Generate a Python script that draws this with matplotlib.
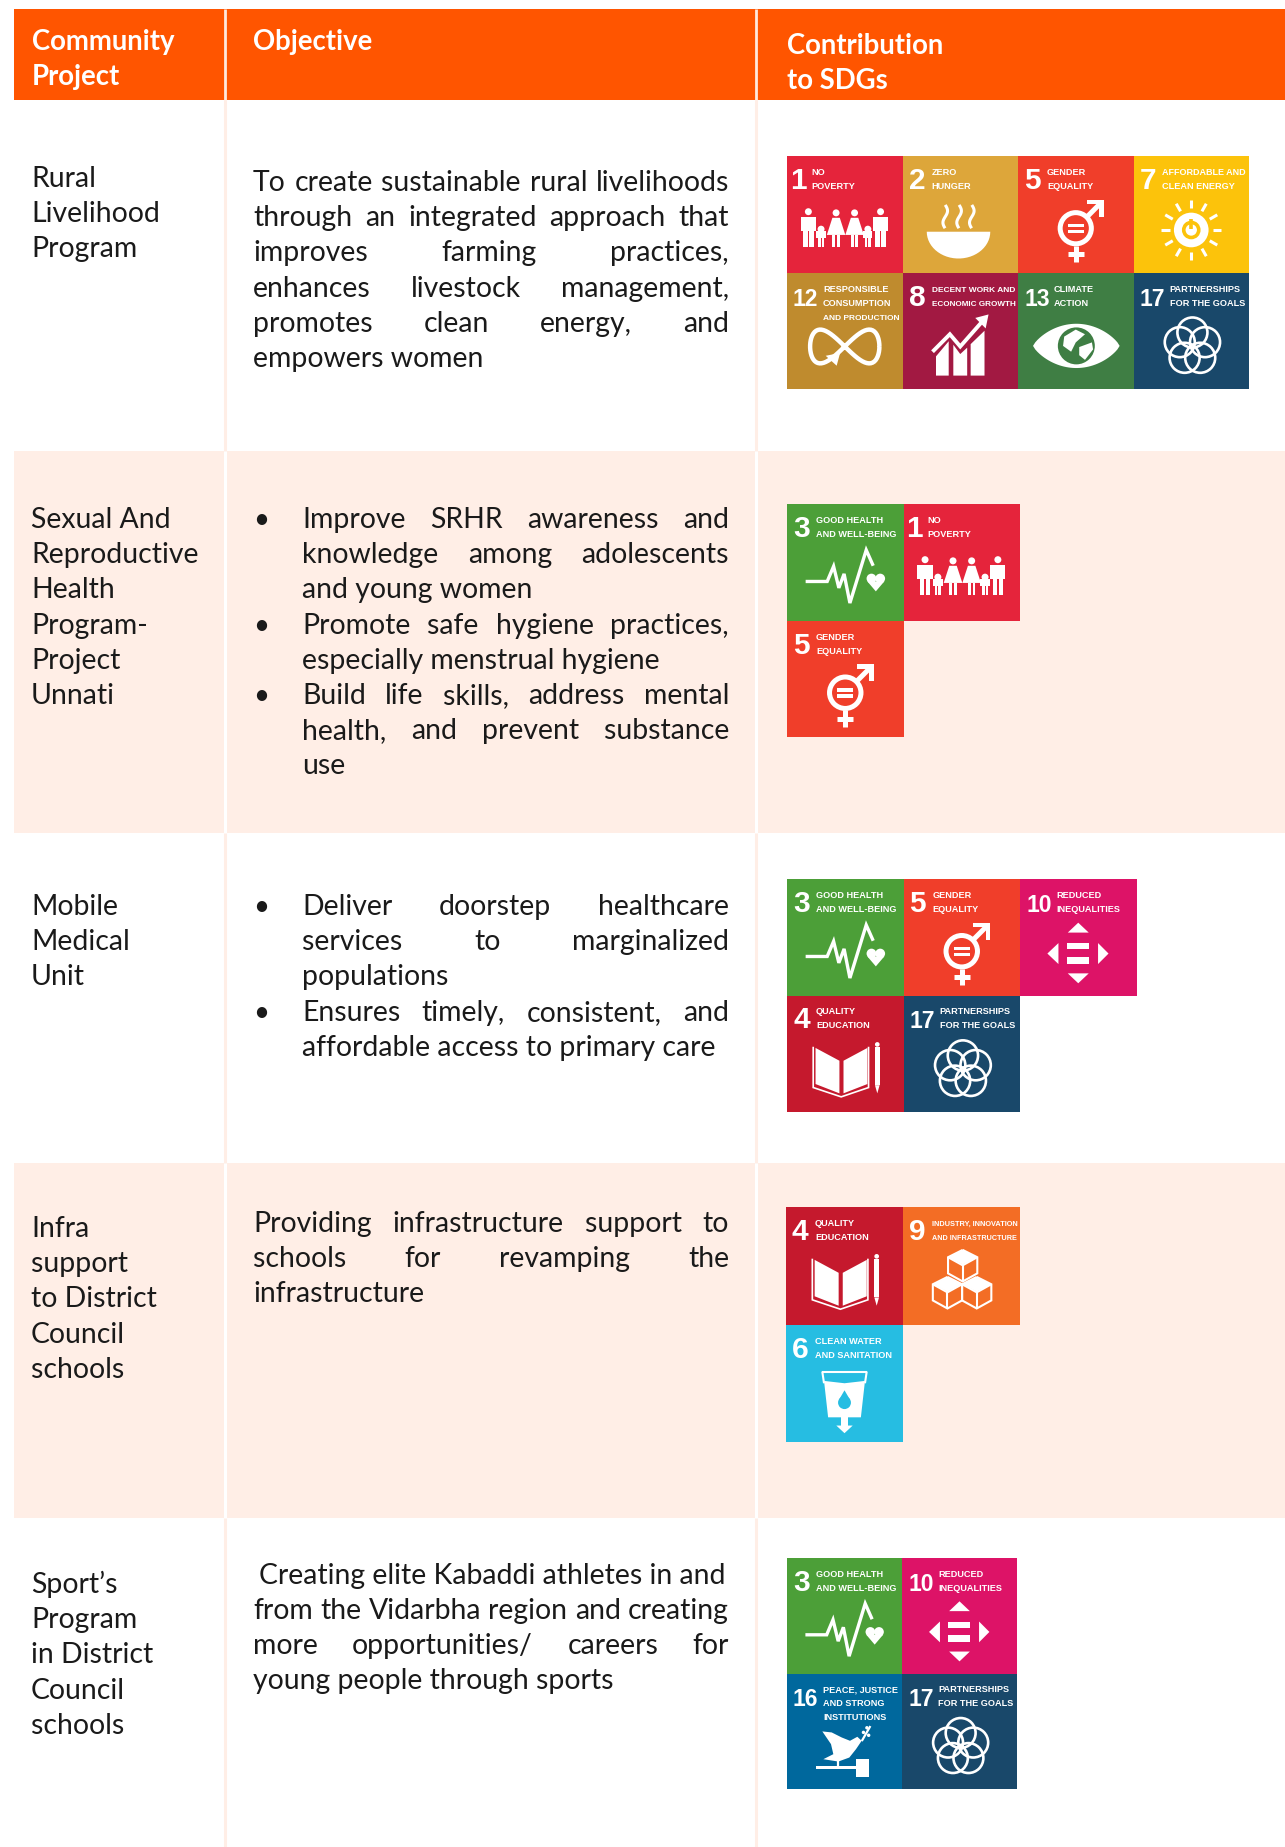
import numpy as np
import matplotlib
matplotlib.use('Agg')
import matplotlib.pyplot as plt
from matplotlib import font_manager
from matplotlib.patches import Rectangle, Circle, Polygon

BODY_FONT = 'Lato'
names = {f.name for f in font_manager.fontManager.ttflist}
TILE_FONT = 'Liberation Sans Narrow' if 'Liberation Sans Narrow' in names else 'Liberation Sans'

headers = [['Community', 'Project'], ['Objective'], ['Contribution', 'to SDGs']]

projects = [
    ['Rural', 'Livelihood', 'Program'],
    ['Sexual And', 'Reproductive', 'Health', 'Program-', 'Project', 'Unnati'],
    ['Mobile', 'Medical', 'Unit'],
    ['Infra', 'support', 'to District', 'Council', 'schools'],
    ['Sport\u2019s', 'Program', 'in District', 'Council', 'schools'],
]

objective_1 = ['To create sustainable rural livelihoods',
               'through an integrated approach that',
               'improves farming practices,',
               'enhances livestock management,',
               'promotes clean energy, and',
               'empowers women']
objective_2 = [['Improve SRHR awareness and', 'knowledge among adolescents', 'and young women'],
               ['Promote safe hygiene practices,', 'especially menstrual hygiene'],
               ['Build life skills, address mental', 'health, and prevent substance', 'use']]
objective_3 = [['Deliver doorstep healthcare', 'services to marginalized', 'populations'],
               ['Ensures timely, consistent, and', 'affordable access to primary care']]
objective_4 = ['Providing infrastructure support to',
               'schools for revamping the',
               'infrastructure']
objective_5 = ['Creating elite Kabaddi athletes in and',
               'from the Vidarbha region and creating',
               'more opportunities/ careers for',
               'young people through sports']

sdg_rows = [
    [[1, 2, 5, 7], [12, 8, 13, 17]],
    [[3, 1], [5]],
    [[3, 5, 10], [4, 17]],
    [[4, 9], [6]],
    [[3, 10], [16, 17]],
]

sdg_colors = {1: '#E5243B', 2: '#DDA63A', 3: '#4C9F38', 4: '#C5192D', 5: '#F03E2A',
              6: '#26BDE2', 7: '#FCC30B', 8: '#A21942', 9: '#F36D25', 10: '#DD1367',
              12: '#BF8B2E', 13: '#3F7E44', 16: '#00689D', 17: '#19486A'}
sdg_labels = {1: ['NO', 'POVERTY'], 2: ['ZERO', 'HUNGER'], 3: ['GOOD HEALTH', 'AND WELL-BEING'],
              4: ['QUALITY', 'EDUCATION'], 5: ['GENDER', 'EQUALITY'], 6: ['CLEAN WATER', 'AND SANITATION'],
              7: ['AFFORDABLE AND', 'CLEAN ENERGY'], 8: ['DECENT WORK AND', 'ECONOMIC GROWTH'],
              9: ['INDUSTRY, INNOVATION', 'AND INFRASTRUCTURE'], 10: ['REDUCED', 'INEQUALITIES'],
              12: ['RESPONSIBLE', 'CONSUMPTION', 'AND PRODUCTION'], 13: ['CLIMATE', 'ACTION'],
              16: ['PEACE, JUSTICE', 'AND STRONG', 'INSTITUTIONS'], 17: ['PARTNERSHIPS', 'FOR THE GOALS']}

ORANGE = '#FF5500'
PEACH = '#FFEEE6'
TEXT = '#1a1a1a'
FS = 20.4
HFS = 19.8
STEP = 35.2
X_LEFT, X_MID, X_RIGHT = 14, 225, 756
Y_BANDS = [100, 451, 833, 1163, 1518, 1847]

fig = plt.figure(figsize=(12.85, 18.47), dpi=100)
ax = fig.add_axes([0, 0, 1, 1])
ax.set_xlim(0, 1285)
ax.set_ylim(1847, 0)
ax.axis('off')
renderer = fig.canvas.get_renderer()


def put(x, y, s, **kw):
    kw.setdefault('color', TEXT)
    kw.setdefault('fontsize', FS)
    kw.setdefault('family', BODY_FONT)
    return ax.text(x, y, s, va='baseline', ha='left', **kw)


def justified(line, x0, x1, y):
    words = line.split()
    items = [put(0, y, w) for w in words]
    widths = [t.get_window_extent(renderer).width for t in items]
    gap = (x1 - x0 - sum(widths)) / (len(words) - 1)
    x = x0
    for t, w in zip(items, widths):
        t.set_x(x)
        x += w + gap


def paragraph(lines, x0, x1, y):
    for i, line in enumerate(lines):
        if i < len(lines) - 1:
            justified(line, x0, x1, y + i * STEP)
        else:
            put(x0, y + i * STEP, line)


def bullets(groups, y):
    n = 0
    for group in groups:
        put(253, y + n * STEP, '\u2022', fontsize=20)
        paragraph(group, 302, 729, y + n * STEP)
        n += len(group)


# background bands and column rules
for i in range(5):
    band = PEACH if i % 2 else 'white'
    ax.add_patch(Rectangle((X_LEFT, Y_BANDS[i]), 1285 - X_LEFT, Y_BANDS[i + 1] - Y_BANDS[i], fc=band, ec='none'))
    rule = 'white' if i % 2 else PEACH
    for x in (X_MID, X_RIGHT):
        ax.plot([x, x], [Y_BANDS[i], Y_BANDS[i + 1]], color=rule, lw=2.2, solid_capstyle='butt')
ax.add_patch(Rectangle((X_LEFT, 9), 1285 - X_LEFT, 91, fc=ORANGE, ec='none'))
for x in (X_MID, X_RIGHT):
    ax.plot([x, x], [9, 100], color='#FFE9DE', lw=2.0, solid_capstyle='butt')

# header text
put(32, 50, headers[0][0], color='white', fontsize=HFS, fontweight='bold')
put(32, 85, headers[0][1], color='white', fontsize=HFS, fontweight='bold')
put(253, 50, headers[1][0], color='white', fontsize=HFS, fontweight='bold')
put(787, 54, headers[2][0], color='white', fontsize=HFS, fontweight='bold')
put(787, 89, headers[2][1], color='white', fontsize=HFS, fontweight='bold')

# first column
for lines, y in zip(projects, [187, 528, 915, 1237, 1593]):
    for i, line in enumerate(lines):
        put(31, y + i * STEP, line)

# objective column
paragraph(objective_1, 253, 729, 191)
bullets(objective_2, 528)
bullets(objective_3, 915)
paragraph(objective_4, 253, 729, 1232)
put(259, 1584, objective_5[0])
paragraph(objective_5[1:], 253, 729, 1619)


# tile icons, all in fractions of the tile
class Tile:
    def __init__(self, x, y, w, h, color):
        self.x, self.y, self.w, self.h, self.color = x, y, w, h, color

    def p(self, pts):
        return [(self.x + a * self.w, self.y + b * self.h) for a, b in pts]

    def poly(self, pts, fc='white'):
        ax.add_patch(Polygon(self.p(pts), closed=True, fc=fc, ec='none'))

    def rect(self, a, b, c, d, fc='white'):
        self.poly([(a, b), (c, b), (c, d), (a, d)], fc)

    def circ(self, a, b, r, fc='white', ec='none', lw=0):
        ax.add_patch(Circle((self.x + a * self.w, self.y + b * self.h), r * self.w, fc=fc, ec=ec, lw=lw))

    def line(self, pts, lw=2.0, color='white'):
        q = np.array(self.p(pts))
        ax.plot(q[:, 0], q[:, 1], color=color, lw=lw, solid_capstyle='butt', solid_joinstyle='miter')


def person(t, c, top, h, w, dress=False):
    t.circ(c, top + 0.028, 0.03)
    if dress:
        t.poly([(c - w * 0.4, top + h * 0.22), (c + w * 0.4, top + h * 0.22), (c + w, top + h * 0.68), (c - w, top + h * 0.68)])
        t.rect(c - w * 0.4, top + h * 0.68, c - w * 0.1, top + h)
        t.rect(c + w * 0.1, top + h * 0.68, c + w * 0.4, top + h)
    else:
        t.rect(c - w, top + h * 0.22, c + w, top + h * 0.58)
        t.rect(c - w * 0.7, top + h * 0.58, c - w * 0.1, top + h)
        t.rect(c + w * 0.1, top + h * 0.58, c + w * 0.7, top + h)


def icon_1(t):
    person(t, 0.185, 0.45, 0.33, 0.065)
    person(t, 0.295, 0.60, 0.18, 0.04)
    person(t, 0.425, 0.46, 0.32, 0.08, True)
    person(t, 0.585, 0.46, 0.32, 0.08, True)
    person(t, 0.70, 0.60, 0.18, 0.04)
    person(t, 0.81, 0.45, 0.33, 0.065)


def icon_2(t):
    bowl = np.linspace(0, np.pi, 30)
    t.poly([(0.485 + 0.275 * np.cos(a), 0.65 + 0.23 * np.sin(a)) for a in bowl])
    for c in (0.37, 0.49, 0.60):
        ys = np.linspace(0.42, 0.62, 20)
        t.line([(c + 0.02 * np.sin((v - 0.42) * 31), v) for v in ys], lw=2.2)


def icon_3(t):
    t.line([(0.16, 0.665), (0.345, 0.665), (0.40, 0.535), (0.445, 0.72), (0.49, 0.60),
            (0.54, 0.85), (0.68, 0.395), (0.74, 0.53)], lw=2.4)
    t.circ(0.725, 0.64, 0.042)
    t.circ(0.80, 0.64, 0.042)
    t.poly([(0.69, 0.665), (0.835, 0.665), (0.7625, 0.75)])


def icon_4(t):
    t.poly([(0.245, 0.45), (0.45, 0.56), (0.45, 0.84), (0.245, 0.76)])
    t.poly([(0.485, 0.56), (0.69, 0.45), (0.69, 0.76), (0.485, 0.84)])
    t.line([(0.225, 0.44), (0.225, 0.79), (0.465, 0.87), (0.70, 0.79), (0.70, 0.44)], lw=1.2)
    t.rect(0.755, 0.44, 0.795, 0.77)
    t.poly([(0.755, 0.77), (0.795, 0.77), (0.775, 0.84)])
    t.circ(0.775, 0.42, 0.02)


def icon_5(t):
    t.circ(0.50, 0.62, 0.135, fc='none', ec='white', lw=3.6)
    t.rect(0.43, 0.58, 0.57, 0.61)
    t.rect(0.43, 0.635, 0.57, 0.665)
    t.line([(0.50, 0.77), (0.50, 0.91)], lw=3.6)
    t.line([(0.43, 0.845), (0.57, 0.845)], lw=3.6)
    t.line([(0.60, 0.52), (0.72, 0.40)], lw=3.6)
    t.poly([(0.60, 0.375), (0.745, 0.375), (0.745, 0.52), (0.705, 0.52), (0.705, 0.415), (0.60, 0.415)])


def icon_6(t):
    t.line([(0.31, 0.40), (0.69, 0.40)], lw=1.5)
    t.line([(0.31, 0.40), (0.325, 0.50)], lw=1.5)
    t.line([(0.69, 0.40), (0.675, 0.50)], lw=1.5)
    t.poly([(0.325, 0.48), (0.50, 0.50), (0.675, 0.48), (0.64, 0.79), (0.36, 0.79)])
    t.circ(0.50, 0.665, 0.055, fc=t.color)
    t.poly([(0.50, 0.56), (0.45, 0.645), (0.55, 0.645)], fc=t.color)
    t.rect(0.47, 0.79, 0.53, 0.86)
    t.poly([(0.43, 0.86), (0.57, 0.86), (0.50, 0.925)])


def icon_7(t):
    for a in np.arange(0, 360, 30):
        r = np.radians(a)
        t.line([(0.5 + 0.185 * np.cos(r), 0.635 + 0.185 * np.sin(r)),
                (0.5 + 0.26 * np.cos(r), 0.635 + 0.26 * np.sin(r))], lw=2.2)
    t.circ(0.5, 0.635, 0.15)
    t.circ(0.5, 0.635, 0.065, fc='none', ec=t.color, lw=2.6)
    t.line([(0.5, 0.54), (0.5, 0.63)], lw=2.6, color=t.color)


def icon_8(t):
    t.poly([(0.29, 0.72), (0.40, 0.59), (0.40, 0.885), (0.29, 0.885)])
    t.poly([(0.44, 0.62), (0.50, 0.70), (0.56, 0.645), (0.56, 0.885), (0.44, 0.885)])
    t.poly([(0.59, 0.615), (0.71, 0.50), (0.71, 0.885), (0.59, 0.885)])
    t.line([(0.26, 0.68), (0.41, 0.53), (0.50, 0.635), (0.70, 0.41)], lw=2.8)
    t.poly([(0.63, 0.39), (0.745, 0.36), (0.72, 0.48)])


def icon_9(t):
    r = 0.125
    for c, v in [(0.51, 0.49), (0.38, 0.72), (0.63, 0.72)]:
        hexa = [(c, v - r * 1.0), (c + r, v - r * 0.5), (c + r, v + r * 0.6), (c, v + r * 1.15), (c - r, v + r * 0.6), (c - r, v - r * 0.5)]
        t.poly(hexa[:2] + [(c, v)] + hexa[5:], fc='white')
        t.line(hexa + [hexa[0]], lw=1.5)
        t.line([(c - r, v - r * 0.5), (c, v + r * 0.05), (c + r, v - r * 0.5)], lw=1.5)
        t.line([(c, v + r * 0.05), (c, v + r * 1.15)], lw=1.5)


def icon_10(t):
    t.poly([(0.41, 0.46), (0.59, 0.46), (0.50, 0.375)])
    t.rect(0.40, 0.55, 0.595, 0.605)
    t.rect(0.40, 0.67, 0.595, 0.73)
    t.poly([(0.41, 0.81), (0.59, 0.81), (0.50, 0.895)])
    t.poly([(0.33, 0.55), (0.33, 0.73), (0.235, 0.64)])
    t.poly([(0.67, 0.55), (0.67, 0.73), (0.76, 0.64)])


def icon_12(t):
    a = np.linspace(0, 2 * np.pi, 80)
    t.line([(0.5 + 0.30 * np.cos(v), 0.635 + 0.145 * np.sin(2 * v)) for v in a], lw=3.2)
    t.poly([(0.335, 0.715), (0.46, 0.69), (0.43, 0.80)])


def icon_13(t):
    a = np.linspace(-1, 1, 40)
    top = [(0.505 + 0.375 * v, 0.63 - 0.19 * (1 - v ** 2) ** 0.8) for v in a]
    bot = [(0.505 + 0.375 * v, 0.63 + 0.19 * (1 - v ** 2) ** 0.8) for v in a[::-1]]
    t.poly(top + bot)
    t.circ(0.505, 0.63, 0.16, fc=t.color)
    t.poly([(0.40, 0.55), (0.50, 0.49), (0.58, 0.53), (0.50, 0.60), (0.46, 0.68), (0.39, 0.63)])
    t.poly([(0.53, 0.64), (0.64, 0.60), (0.65, 0.66), (0.58, 0.75), (0.53, 0.71)])


def icon_16(t):
    pts = [(157, 572), (185, 575), (215, 590), (240, 600), (262, 588), (275, 600), (258, 625), (238, 650),
           (205, 662), (160, 655), (190, 640), (183, 610)]
    t.poly([((a - 51) / 345, (b - 399) / 345) for a, b in pts])
    t.line([(0.650, 0.585), (0.725, 0.455)], lw=1.6)
    for a, b in [(0.665, 0.51), (0.695, 0.47), (0.71, 0.535)]:
        t.circ(a, b, 0.015)
    t.line([(0.445, 0.755), (0.445, 0.815)], lw=1.6)
    t.rect(0.25, 0.805, 0.61, 0.83)
    t.rect(0.60, 0.74, 0.71, 0.90)


def icon_17(t):
    for a in np.radians(np.arange(-90, 270, 72)):
        t.circ(0.51 + 0.115 * np.cos(a), 0.635 + 0.12 * np.sin(a), 0.13, fc='none', ec='white', lw=1.9)


icons = {1: icon_1, 2: icon_2, 3: icon_3, 4: icon_4, 5: icon_5, 6: icon_6, 7: icon_7, 8: icon_8,
         9: icon_9, 10: icon_10, 12: icon_12, 13: icon_13, 16: icon_16, 17: icon_17}


def draw_tile(goal, x, y, w, h):
    ax.add_patch(Rectangle((x, y), w, h, fc=sdg_colors[goal], ec='none'))
    put(x + (3 if goal == 1 else 6), y + 33, str(goal), color='white', fontsize=16.5 if goal > 9 else 21.5,
        family=TILE_FONT, fontweight='bold')
    dx = 36 if goal > 9 else (24 if goal == 1 else 29)
    for i, line in enumerate(sdg_labels[goal]):
        t = put(x + dx, y + 19 + i * 14, line, color='white', fontsize=6.6, family=TILE_FONT, fontweight='bold')
        room = w - dx - 3
        width = t.get_window_extent(renderer).width
        if width > room:
            t.set_fontsize(6.6 * room / width)
    icons[goal](Tile(x, y, w, h, sdg_colors[goal]))


tile_origins = [(787, 156, 115.5, 116.5), (787, 504, 116.5, 116.5), (787, 879, 116.5, 116.5),
                (786, 1207, 117, 117.5), (787, 1558, 115, 115.5)]
for grid, (x0, y0, w, h) in zip(sdg_rows, tile_origins):
    for r, row in enumerate(grid):
        for c, goal in enumerate(row):
            draw_tile(goal, x0 + c * w, y0 + r * h, w, h)

fig.savefig('out.png', dpi=100)
